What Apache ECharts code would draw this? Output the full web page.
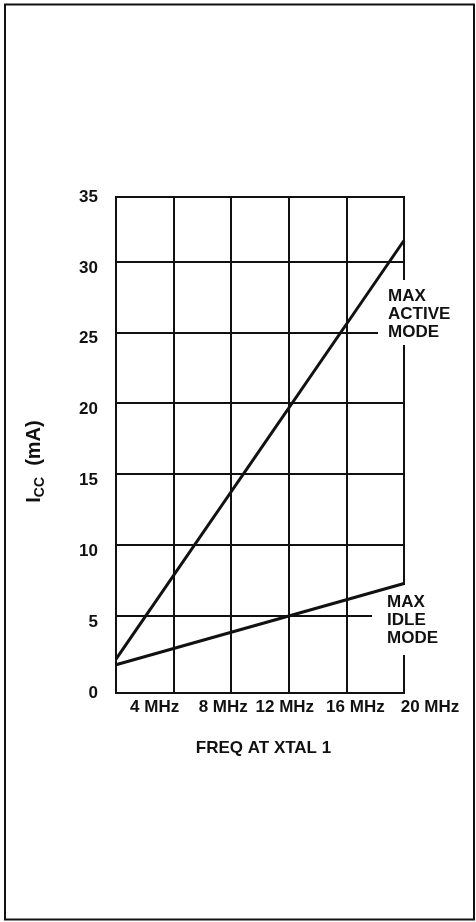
<!DOCTYPE html>
<html><head><meta charset="utf-8">
<script src="https://cdn.jsdelivr.net/npm/echarts@6/dist/echarts.min.js"></script>
<style>html,body{margin:0;padding:0;background:#fff}#c{width:476px;height:922px}</style>
</head><body><div id="c"></div>
<script>
// ---- data ----
const freqMHz = [0, 20];
const activeMA = [1.9, 31.5];
const idleMA = [1.5, 7.25];
const xTickValues = [4, 8, 12, 16, 20];
const xTickLabels = ['4 MHz', '8 MHz', '12 MHz', '16 MHz', '20 MHz'];
const yTickLabels = ['0', '5', '10', '15', '20', '25', '30', '35'];
const activeLabel = 'MAX\nACTIVE\nMODE';
const idleLabel = 'MAX\nIDLE\nMODE';
const xTitle = 'FREQ AT XTAL 1';
const yTitleMain = 'I';
const yTitleSub = 'CC';
const yTitleUnit = '(mA)';

// ---- styling ----
const FONT = '"Liberation Sans", Arial, Helvetica, sans-serif';
const INK = '#111';
const W = 'bold';
const xLabelShift = [-19, -8, -4, 9, 26]; // horizontal nudge of each tick label (px)

const rich = {};
xTickValues.forEach((v, i) => {
  const s = xLabelShift[i];
  rich['p' + i] = { fontSize: 17, fontFamily: FONT, fontWeight: W, color: INK,
    padding: s < 0 ? [0, -2 * s, 0, 0] : [0, 0, 0, 2 * s] };
});

const chart = echarts.init(document.getElementById('c'));
chart.setOption({
  animation: false,
  backgroundColor: '#fff',
  textStyle: { fontFamily: FONT, color: INK, fontWeight: W },
  grid: [
    { left: 116, right: 72, top: 197, bottom: 229, show: true, borderColor: INK, borderWidth: 2, backgroundColor: 'transparent' },
    { left: 116, right: 72, top: 191, bottom: 236, show: false }
  ],
  xAxis: [
    { gridIndex: 0, type: 'value', min: 0, max: 20, interval: 4,
      axisLine: { show: true, lineStyle: { color: INK, width: 2 } },
      axisTick: { show: false },
      splitLine: { show: true, lineStyle: { color: INK, width: 2 } },
      axisLabel: { margin: 6, color: INK, fontSize: 17, fontWeight: W, showMaxLabel: true,
        formatter: v => { const i = xTickValues.indexOf(v); return i < 0 ? '' : '{p' + i + '|' + xTickLabels[i] + '}'; },
        rich: rich },
      name: xTitle, nameLocation: 'middle', nameGap: 47,
      nameTextStyle: { fontSize: 17, fontWeight: W, color: INK, padding: [0, 0, 0, 7] } },
    { gridIndex: 1, type: 'value', min: 0, max: 20, show: false }
  ],
  yAxis: [
    { gridIndex: 0, type: 'value', min: 0, max: 35, interval: 5,
      axisLine: { show: false }, axisTick: { show: false }, splitLine: { show: false },
      axisLabel: { margin: 18, color: INK, fontSize: 17, fontWeight: W, padding: [6, 0, 0, 0],
        formatter: v => yTickLabels[Math.round(v / 5)] },
      name: '{i|' + yTitleMain + '}{s|' + yTitleSub + '}{i|  ' + yTitleUnit + '}',
      nameLocation: 'middle', nameRotate: 90, nameGap: 69,
      nameTextStyle: { padding: [0, 33, 0, 0], rich: {
        i: { fontSize: 20, fontFamily: FONT, fontWeight: W, color: INK, lineHeight: 26, verticalAlign: 'middle' },
        s: { fontSize: 14, fontFamily: FONT, fontWeight: W, color: INK, lineHeight: 14, verticalAlign: 'bottom' } } } },
    { gridIndex: 1, type: 'value', min: 0, max: 35, interval: 5,
      axisLine: { show: false }, axisTick: { show: false }, axisLabel: { show: false },
      splitLine: { show: true, showMinLine: false, showMaxLine: false, lineStyle: { color: INK, width: 2 } } }
  ],
  series: [
    { name: 'MAX ACTIVE MODE', type: 'line', xAxisIndex: 1, yAxisIndex: 1, z: 3,
      data: freqMHz.map((f, i) => [f, activeMA[i]]), symbol: 'none',
      lineStyle: { color: INK, width: 3 } },
    { name: 'MAX IDLE MODE', type: 'line', xAxisIndex: 1, yAxisIndex: 1, z: 3,
      data: freqMHz.map((f, i) => [f, idleMA[i]]), symbol: 'none',
      lineStyle: { color: INK, width: 3 } }
  ],
  graphic: [
    { type: 'rect', z: 0, shape: { x: 5, y: 4.5, width: 469, height: 915 },
      style: { fill: 'none', stroke: INK, lineWidth: 2 } },
    { type: 'text', z: 1, x: 378, y: 280,
      style: { text: activeLabel, font: 'bold 17px ' + FONT, lineHeight: 18, fill: INK,
        align: 'left', verticalAlign: 'top', backgroundColor: '#fff', padding: [7, 6, 4, 10] } },
    { type: 'text', z: 1, x: 372, y: 585,
      style: { text: idleLabel, font: 'bold 17px ' + FONT, lineHeight: 18, fill: INK,
        align: 'left', verticalAlign: 'top', backgroundColor: '#fff', padding: [8, 6, 8, 15] } }
  ]
});
</script></body></html>
